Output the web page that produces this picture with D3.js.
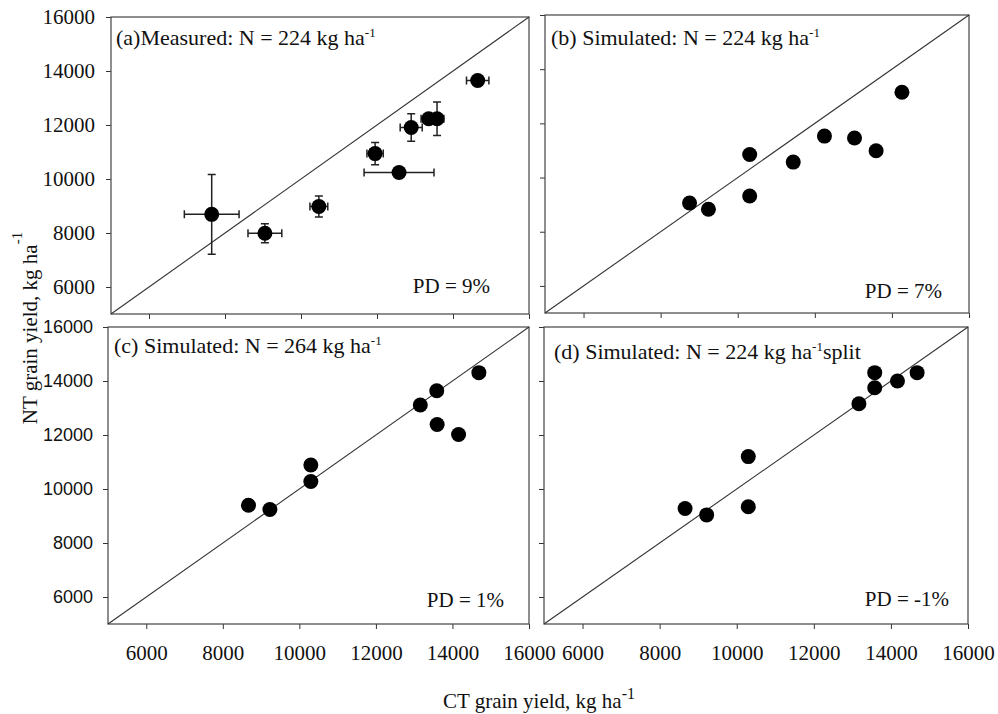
<!DOCTYPE html>
<html>
<head>
<meta charset="utf-8">
<script src="https://cdn.jsdelivr.net/npm/d3@7"></script>
<style>
  body { margin: 0; background: #fff; }
  svg { display: block; }
</style>
</head>
<body>
<div id="chart"></div>
<script>
// tick values shared by all four panels
const xTicks = [6000, 8000, 10000, 12000, 14000, 16000];
const yTicks = [6000, 8000, 10000, 12000, 14000, 16000];

// (a) measured, with standard errors
const ctA = [7650, 9050, 10470, 11950, 12580, 12900, 13360, 13580, 14650];
const ntA = [8690, 7990, 8980, 10940, 10240, 11910, 12230, 12230, 13650];
const ctErrA = [720, 445, 235, 215, 920, 290, 200, 180, 295];
const ntErrA = [1480, 350, 390, 410, 60, 510, 100, 620, 100];

// (b) simulated N = 224
const ctB = [8750, 9240, 10310, 10310, 11440, 12250, 13030, 13590, 14260];
const ntB = [9060, 8830, 10850, 9320, 10570, 11530, 11460, 10990, 13150];

// (c) simulated N = 264
const ctC = [8670, 9230, 10300, 10300, 13160, 13590, 13600, 14160, 14690];
const ntC = [9400, 9240, 10890, 10280, 13110, 13640, 12390, 12020, 14310];

// (d) simulated N = 224 split
const ctD = [8660, 9220, 10300, 10300, 13170, 13580, 13580, 14170, 14680];
const ntD = [9280, 9040, 11200, 9340, 13160, 14310, 13750, 14000, 14310];

const titles = [
  ["(a)Measured: N = 224 kg ha", "-1", ""],
  ["(b) Simulated: N = 224 kg ha", "-1", ""],
  ["(c) Simulated: N = 264 kg ha", "-1", ""],
  ["(d) Simulated: N = 224 kg ha", "-1", "split"]
];
const pdLabels = ["PD = 9%", "PD = 7%", "PD = 1%", "PD = -1%"];

const SERIF = '"Liberation Serif", "Times New Roman", serif';
const SANS = '"Liberation Sans", Arial, sans-serif';

const width = 998, height = 714;

const svg = d3.select('#chart')
              .append('svg')
              .attr('width', width)
              .attr('height', height);

// panel boxes and text placement
const panels = [
  { ct: ctA, nt: ntA, ctErr: ctErrA, ntErr: ntErrA, box: [111, 17, 529, 314],
    xLab: false, yLab: 'serif', title: [116, 45], pd: [490, 293] },
  { ct: ctB, nt: ntB, box: [545, 15, 969, 313],
    xLab: false, yLab: null, title: [551, 45], pd: [942, 298] },
  { ct: ctC, nt: ntC, box: [108, 327, 529, 624],
    xLab: true, yLab: 'sans', title: [114, 353], pd: [504, 607] },
  { ct: ctD, nt: ntD, box: [544, 327, 968, 624],
    xLab: true, yLab: null, title: [554, 359], pd: [949, 606] }
];

panels.forEach((p, i) => {
  const [x0, y0, x1, y1] = p.box;
  const x = d3.scaleLinear().domain([5000, 16000]).range([x0, x1]);
  const y = d3.scaleLinear().domain([5000, 16000]).range([y1, y0]);

  const g = svg.append('g');

  // axes
  const yAxis = d3.axisLeft(y).tickValues(yTicks).tickSize(5)
                  .tickPadding(p.yLab === 'serif' ? 11 : 10)
                  .tickFormat(p.yLab ? d3.format('d') : '');
  const ya = g.append('g').attr('transform', `translate(${x0},0)`).call(yAxis)
              .attr('font-family', p.yLab === 'serif' ? SERIF : SANS)
              .attr('font-size', p.yLab === 'serif' ? 21 : 18);
  ya.select('.domain').remove();
  ya.selectAll('line').attr('stroke', '#333');
  ya.selectAll('text').attr('fill', '#111');

  const xAxis = d3.axisBottom(x).tickValues(xTicks).tickSize(5).tickPadding(16)
                  .tickFormat(p.xLab ? d3.format('d') : '');
  const xa = g.append('g').attr('transform', `translate(0,${y1})`).call(xAxis)
              .attr('font-family', SERIF)
              .attr('font-size', 21);
  xa.select('.domain').remove();
  xa.selectAll('line').attr('stroke', '#333');
  xa.selectAll('text').attr('fill', '#111');

  // frame
  g.append('rect')
   .attr('x', x0).attr('y', y0)
   .attr('width', x1 - x0).attr('height', y1 - y0)
   .attr('fill', 'none').attr('stroke', '#444').attr('stroke-width', 1.2);

  // 1:1 line
  g.append('line')
   .attr('x1', x(5000)).attr('y1', y(5000))
   .attr('x2', x(16000)).attr('y2', y(16000))
   .attr('stroke', '#333').attr('stroke-width', 1.1);

  const pts = p.ct.map((c, k) => ({ c: c, n: p.nt[k],
    ce: p.ctErr ? p.ctErr[k] : 0, ne: p.ntErr ? p.ntErr[k] : 0 }));

  // error bars
  if (p.ctErr) {
    const eb = g.append('g').attr('stroke', '#222').attr('stroke-width', 1.5).attr('fill', 'none');
    const cap = 4;
    pts.forEach(d => {
      const cx = x(d.c), cy = y(d.n);
      const xl = x(d.c - d.ce), xr = x(d.c + d.ce);
      const yt = y(d.n + d.ne), yb = y(d.n - d.ne);
      eb.append('path').attr('d',
        `M${xl},${cy}H${xr}M${xl},${cy - cap}V${cy + cap}M${xr},${cy - cap}V${cy + cap}` +
        `M${cx},${yt}V${yb}M${cx - cap},${yt}H${cx + cap}M${cx - cap},${yb}H${cx + cap}`);
    });
  }

  g.append('g')
   .selectAll('circle')
   .data(pts)
   .enter().append('circle')
   .attr('cx', d => x(d.c))
   .attr('cy', d => y(d.n))
   .attr('r', 7.5)
   .attr('fill', '#000');

  // panel title
  const t = titles[i];
  const tt = g.append('text').attr('font-family', SERIF).attr('font-size', 22).attr('fill', '#111')
              .attr('x', p.title[0]).attr('y', p.title[1]);
  tt.append('tspan').text(t[0]);
  tt.append('tspan').attr('font-size', 13).attr('dy', -8).text(t[1]);
  if (t[2]) tt.append('tspan').attr('dy', 8).text(t[2]);

  g.append('text').attr('font-family', SERIF).attr('font-size', 21).attr('fill', '#111')
   .attr('text-anchor', 'end')
   .attr('x', p.pd[0]).attr('y', p.pd[1])
   .text(pdLabels[i]);
});

// axis titles
const xt = svg.append('text').attr('font-family', SERIF).attr('font-size', 21).attr('fill', '#111')
              .attr('text-anchor', 'middle').attr('x', 539).attr('y', 708);
xt.append('tspan').text('CT grain yield, kg ha');
xt.append('tspan').attr('font-size', 16).attr('dy', -9).text('-1');

const yt = svg.append('text').attr('font-family', SERIF).attr('font-size', 21).attr('fill', '#111')
              .attr('text-anchor', 'middle')
              .attr('transform', 'translate(37,328) rotate(-90)');
yt.append('tspan').text('NT grain yield, kg ha');
yt.append('tspan').attr('font-size', 15).attr('dy', -15).text('-1');
</script>
</body>
</html>
